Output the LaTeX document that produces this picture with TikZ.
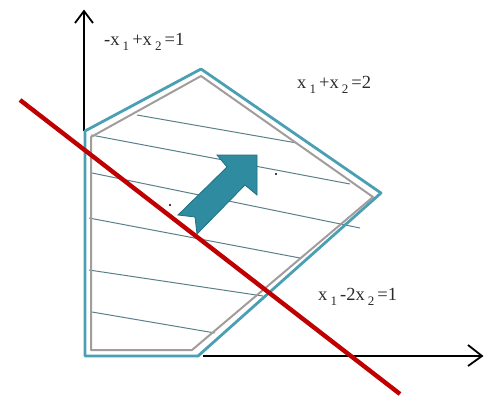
\documentclass[tikz,border=0pt]{standalone}
\usepackage{fontspec}
\setmainfont{Liberation Serif}
\definecolor{tealline}{HTML}{4A9FB2}
\definecolor{grayline}{HTML}{A39C9C}
\definecolor{hatchcol}{HTML}{5A8088}
\definecolor{redline}{HTML}{C00000}
\definecolor{arrowfill}{HTML}{2E8BA0}
\definecolor{arrowedge}{HTML}{226F80}
\definecolor{txtcol}{HTML}{2A2A2A}
\newcommand{\mysub}[1]{\,\raisebox{-0.32em}{\fontsize{13}{14}\selectfont #1}\,}
\begin{document}
\begin{tikzpicture}[x=1pt,y=-1pt,
  lbl/.style={font=\fontsize{18.5}{20}\selectfont, text=txtcol, inner sep=0pt, anchor=base west},
  axisline/.style={line width=1.8pt, black},
  axishead/.style={line width=1.8pt, black, line join=miter},
  hatchline/.style={line width=1pt, hatchcol},
  graypoly/.style={line width=2pt, grayline, line join=round},
  tealpoly/.style={line width=2.8pt, tealline, line join=round},
  redl/.style={line width=4.4pt, redline},
  bigarrow/.style={fill=arrowfill, draw=arrowedge, line width=0.8pt, line join=miter},
  dotmark/.style={fill=black, draw=none}]
\useasboundingbox (0,0) rectangle (491,399);
% axes
\coordinate (O) at (84,356);
\coordinate (ytop) at (84,11);
\coordinate (xend) at (482,356);
\draw[axisline] (84,131) -- (ytop);
\draw[axisline] (203,356) -- (xend);
\draw[axishead] (75,23) -- (ytop) -- (93,23);
\draw[axishead] (468,345) -- (xend) -- (468,366);
% hatch lines
\draw[hatchline] (137,115) -- (297,143);
\draw[hatchline] (91,135) -- (350,184);
\draw[hatchline] (92,173) -- (360,228);
\draw[hatchline] (89,218) -- (300,258);
\draw[hatchline] (89,270) -- (263,296);
\draw[hatchline] (92,312) -- (215,333);
% feasible region outlines
\draw[graypoly] (91,350) -- (91,137) -- (201,76) -- (373,197) -- (192,350) -- cycle;
\draw[tealpoly] (85,356) -- (85,131) -- (201,69) -- (381,193) -- (198,356) -- cycle;
% dots
\fill[dotmark] (170,205) circle (1.2);
\fill[dotmark] (276,174) circle (1.2);
% objective direction arrow
\draw[bigarrow] (257,155) -- (257,195) -- (245,185) -- (197,234) -- (195,217) -- (178,215) -- (227,167) -- (217,155) -- cycle;
% red line
\draw[redl] (20,100) -- (400,394);
% labels
\node[lbl] (l1) at (104,45) {-x\mysub{1}+x\mysub{2}=1};
\node[lbl] (l2) at (297,88) {x\mysub{1}+x\mysub{2}=2};
\node[lbl] (l3) at (318,300) {x\mysub{1}-2x\mysub{2}=1};
\end{tikzpicture}
\end{document}
